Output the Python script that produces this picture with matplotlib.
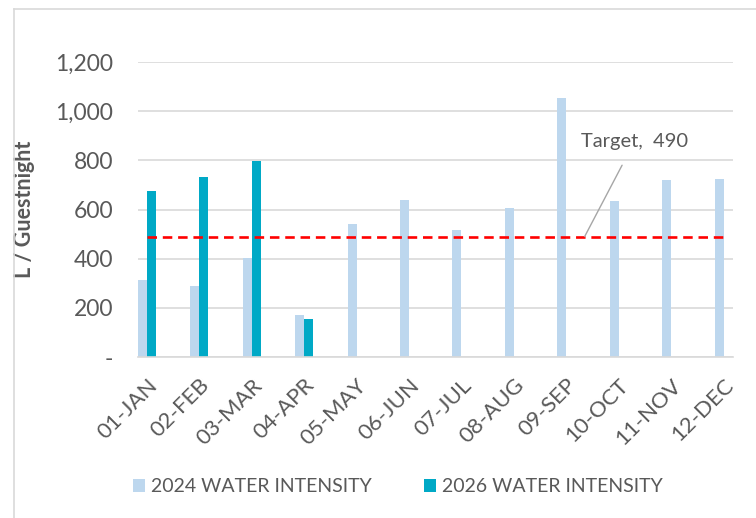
import matplotlib
matplotlib.use("Agg")
import matplotlib.pyplot as plt
from matplotlib.lines import Line2D

# monthly water intensity, L per guestnight
months = ['01-JAN', '02-FEB', '03-MAR', '04-APR', '05-MAY', '06-JUN',
          '07-JUL', '08-AUG', '09-SEP', '10-OCT', '11-NOV', '12-DEC']
intensity_2024 = [314, 290, 401, 171, 540, 638, 515, 607, 1052, 634, 718, 726]
intensity_2026 = [677, 733, 799, 156, None, None, None, None, None, None, None, None]
target = 490
yticks = [0, 200, 400, 600, 800, 1000, 1200]
ytick_labels = ['-', '200', '400', '600', '800', '1,000', '1,200']

plt.rcParams['font.family'] = ['Lato', 'DejaVu Sans']
grey = '#595959'
c2024 = '#BDD7EE'
c2026 = '#00A9C6'

fig = plt.figure(figsize=(7.56, 5.18), dpi=100)
ax = fig.add_axes([138 / 756, 1 - 357 / 518, 595 / 756, 295 / 518])

x = list(range(len(months)))
w = 0.172
ax.bar([i - w / 2 for i in x], intensity_2024, width=w, color=c2024,
       label='2024 WATER INTENSITY', zorder=2)
x26 = [i for i, v in zip(x, intensity_2026) if v is not None]
v26 = [v for v in intensity_2026 if v is not None]
ax.bar([i + w / 2 for i in x26], v26, width=w, color=c2026,
       label='2026 WATER INTENSITY', zorder=2)

# target line across the months
ax.plot([x[0], x[-1]], [target, target], color='#FF0000', lw=1.9,
        dashes=(3.6, 2.2), zorder=3)
ax.annotate(f'Target,  {target}', xy=(8.35, target), xytext=(9.3, 876),
            fontsize=14.5, color=grey, ha='center', va='center',
            arrowprops=dict(arrowstyle='-', color='#A6A6A6', lw=1,
                            shrinkA=10, shrinkB=0))

ax.set_xlim(-0.172, 11.18)
ax.set_ylim(0, 1200)
ax.set_yticks(yticks)
ax.set_yticklabels(ytick_labels)
ax.set_xticks(x)
ax.set_xticklabels(months, rotation=45, ha='right', rotation_mode='anchor')
ax.tick_params(axis='both', length=0, colors=grey)
ax.tick_params(axis='y', pad=18, labelsize=16.5)
ax.tick_params(axis='x', pad=13, labelsize=16)
ax.yaxis.grid(True, color='#D9D9D9', lw=1.2, zorder=0)
ax.set_axisbelow(True)
for s in ['top', 'right', 'left']:
    ax.spines[s].set_visible(False)
ax.spines['bottom'].set_color('#D9D9D9')
ax.spines['bottom'].set_linewidth(1.2)
ax.set_ylabel('L / Guestnight', fontsize=15.5, fontweight='bold', color=grey)
ax.yaxis.set_label_coords(-0.173, 0.5)

ax.legend(loc='center', bbox_to_anchor=(398 / 756, 1 - 487 / 518),
          bbox_transform=fig.transFigure, ncol=2, frameon=False,
          fontsize=14, labelcolor=grey, handlelength=0.62, handleheight=0.62,
          handletextpad=0.31, columnspacing=2.7)

# chart border
fig.add_artist(Line2D([13.5 / 756, 13.5 / 756], [0, 1 - 9 / 518],
                      color='#D9D9D9', lw=1.2))
fig.add_artist(Line2D([13.5 / 756, 1], [1 - 9 / 518, 1 - 9 / 518],
                      color='#D9D9D9', lw=1.2))

fig.savefig('out.png', dpi=100)
